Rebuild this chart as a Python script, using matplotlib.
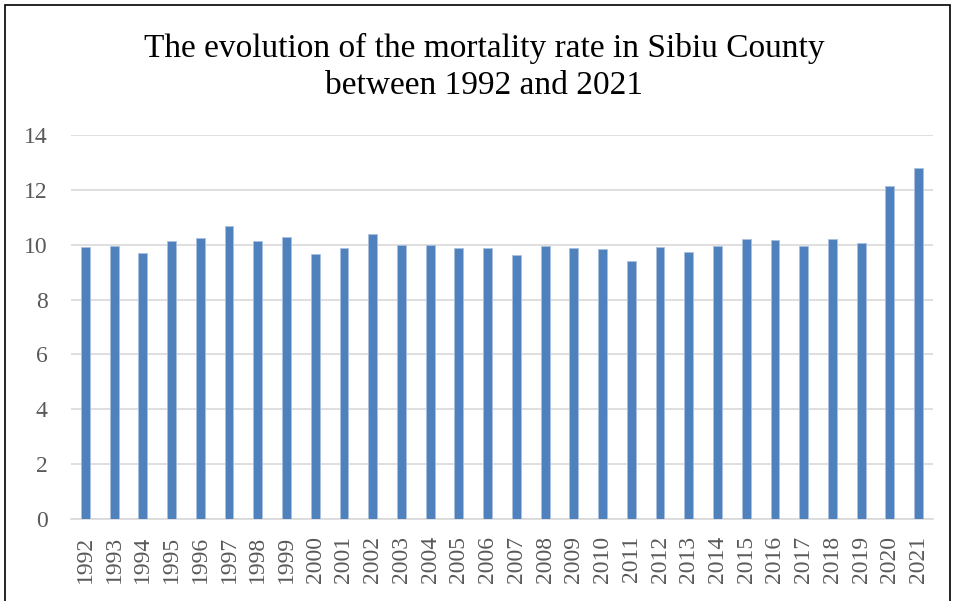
import matplotlib
matplotlib.use("Agg")
import numpy as np
from matplotlib import pyplot as plt
from matplotlib.patches import Rectangle

years = [str(y) for y in range(1992, 2022)]
rates = [9.90, 9.96, 9.71, 10.13, 10.26, 10.67, 10.13, 10.28, 9.65, 9.89,
         10.38, 9.99, 10.00, 9.88, 9.89, 9.61, 9.95, 9.89, 9.84, 9.40,
         9.93, 9.74, 9.94, 10.22, 10.18, 9.97, 10.22, 10.07, 12.14, 12.80]
yticks = [0, 2, 4, 6, 8, 10, 12, 14]

plt.rcParams['font.family'] = ['Liberation Serif', 'DejaVu Serif']

fig = plt.figure(figsize=(9.57, 6.01), dpi=100)
ax = fig.add_axes([71/957, 1 - 519/601, 862/957, 384/601])

x = np.arange(len(years))
ax.bar(x, rates, width=0.31, color='#4f81bd', edgecolor='#a9c0e0', linewidth=0.6, zorder=3)

ax.set_xlim(-0.5, len(years) - 0.5)
ax.set_ylim(0, 14)
ax.set_yticks(yticks)
ax.set_yticklabels([str(t) for t in yticks])
ax.set_xticks(x)
ax.set_xticklabels(years, rotation=90)
ax.tick_params(axis='both', length=0, colors='#595959', labelsize=17)
ax.tick_params(axis='y', pad=17)
ax.tick_params(axis='x', pad=12)
ax.grid(axis='y', color='#d9d9d9', linewidth=1.2, zorder=0)
for s in ['top', 'right', 'left']:
    ax.spines[s].set_visible(False)
ax.spines['bottom'].set_color('#d9d9d9')
ax.spines['bottom'].set_linewidth(1.2)

fig.text(484/957, 1 - 67/601, "The evolution of the mortality rate in Sibiu County\nbetween 1992 and 2021",
         ha='center', va='center', fontsize=24, linespacing=1.3, color='black')

# outer frame of the chart area
fig.patches.append(Rectangle((5/957, -0.05), 945/957, 1.05 - 5/601, transform=fig.transFigure,
                             fill=False, edgecolor='black', linewidth=1.2))

fig.savefig("out.png", dpi=100)
